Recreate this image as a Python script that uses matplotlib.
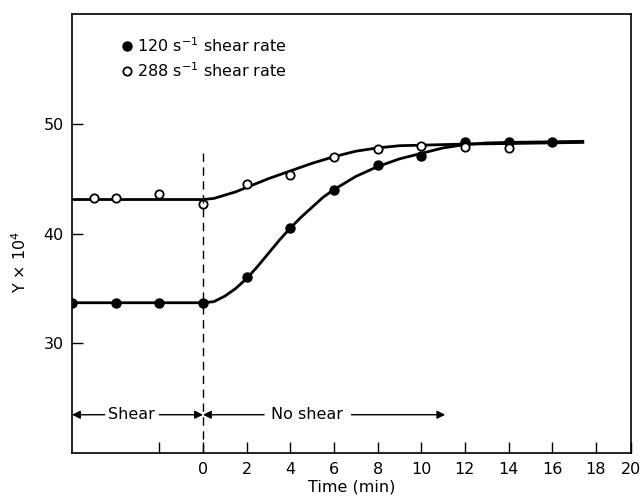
import matplotlib.pyplot as plt

# measured points, 120 s^-1 shear rate (filled)
t_120 = [-6, -4, -2, 0, 2, 4, 6, 8, 10, 12, 14, 16]
y_120 = [33.7, 33.7, 33.7, 33.7, 36.0, 40.5, 44.0, 46.2, 47.1, 48.3, 48.3, 48.3]

# measured points, 288 s^-1 shear rate (open)
t_288 = [-5, -4, -2, 0, 2, 4, 6, 8, 10, 12, 14]
y_288 = [43.2, 43.2, 43.6, 42.7, 44.5, 45.3, 47.0, 47.7, 48.0, 47.9, 47.8]

# drawn curves
ct_120 = [-6, 0, 0.5, 1, 1.5, 2, 2.5, 3, 3.5, 4, 4.5, 5, 5.5, 6, 7, 8, 9, 10, 11, 12, 13, 14, 17.4]
cy_120 = [33.7, 33.7, 33.8, 34.3, 35.0, 35.9, 37.0, 38.2, 39.4, 40.5, 41.5, 42.4, 43.3, 44.0, 45.2, 46.1, 46.8, 47.3, 47.8, 48.1, 48.25, 48.3, 48.4]
ct_288 = [-6, 0, 0.5, 1, 1.5, 2, 3, 4, 5, 6, 7, 8, 9, 10, 12, 14, 17.4]
cy_288 = [43.1, 43.1, 43.2, 43.5, 43.8, 44.2, 45.0, 45.7, 46.4, 47.0, 47.5, 47.8, 48.0, 48.05, 48.15, 48.2, 48.3]

x_ticks = [-2, 0, 2, 4, 6, 8, 10, 12, 14, 16, 18, 19.6]
x_labels = ['', '0', '2', '4', '6', '8', '10', '12', '14', '16', '18', '20']
y_ticks = [30, 40, 50]


def main():
    plt.rcParams['font.family'] = ['DejaVu Sans']
    fig = plt.figure(figsize=(6.43, 4.98), dpi=100)
    ax = fig.add_axes([0.112, 0.090, 0.869, 0.882])

    ax.plot(ct_120, cy_120, color='black', lw=2)
    ax.plot(ct_288, cy_288, color='black', lw=2)
    ax.plot(t_120, y_120, 'o', color='black', ms=6.5)
    ax.plot(t_288, y_288, 'o', mfc='white', mec='black', mew=1.3, ms=6)

    ax.plot([0, 0], [47.3, 20], color='black', lw=1, ls=(0, (6, 4)))

    # legend drawn by hand
    ax.plot([-3.5], [57.1], 'o', color='black', ms=6.5)
    ax.plot([-3.5], [54.8], 'o', mfc='white', mec='black', mew=1.3, ms=6)
    ax.text(-3.0, 57.1, '120 s$^{-1}$ shear rate', fontsize=11.5, va='center')
    ax.text(-3.0, 54.8, '288 s$^{-1}$ shear rate', fontsize=11.5, va='center')

    # shear / no shear arrows
    arr = dict(arrowstyle='-|>', color='black', lw=1, mutation_scale=12,
               shrinkA=0, shrinkB=0)
    ya = 23.5
    ax.text(-3.3, ya, 'Shear', fontsize=11.5, ha='center', va='center')
    ax.annotate('', xy=(-6, ya), xytext=(-4.5, ya), arrowprops=arr)
    ax.annotate('', xy=(0, ya), xytext=(-2.0, ya), arrowprops=arr)
    ax.text(4.75, ya, 'No shear', fontsize=11.5, ha='center', va='center')
    ax.annotate('', xy=(0, ya), xytext=(2.8, ya), arrowprops=arr)
    ax.annotate('', xy=(11.1, ya), xytext=(6.8, ya), arrowprops=arr)

    ax.set_xlim(-6, 19.6)
    ax.set_ylim(20, 60)
    ax.set_xticks(x_ticks)
    ax.set_xticklabels(x_labels)
    ax.set_yticks(y_ticks)
    ax.tick_params(direction='in', length=8, width=1, labelsize=11.5, pad=6)
    for s in ax.spines.values():
        s.set_linewidth(1.2)

    ax.set_xlabel('Time (min)', fontsize=11.5, labelpad=2)
    fig.text(0.031, 1 - 262 / 498, 'Y × 10$^4$', rotation=90, fontsize=11.5,
             ha='center', va='center')

    fig.savefig('out.png', dpi=100)


if __name__ == '__main__':
    main()
